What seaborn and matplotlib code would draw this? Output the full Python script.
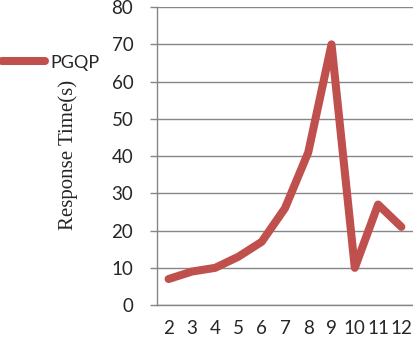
import matplotlib
matplotlib.use("Agg")
import matplotlib.pyplot as plt
import seaborn as sns
import pandas as pd
import numpy as np

# data
x_vals = [2, 3, 4, 5, 6, 7, 8, 9, 10, 11, 12]
pgqp = [7, 9, 10, 13, 17, 26, 41, 70, 10, 27, 21]

df = pd.DataFrame({"x": x_vals, "PGQP": pgqp})

sns.set_style("white")
plt.rcParams['font.family'] = ['Lato', 'DejaVu Sans']

fig = plt.figure(figsize=(4.13, 3.39), dpi=100)
ax = fig.add_axes([0.38, 0.10, 0.62, 0.879])

sns.lineplot(x="x", y="PGQP", data=df, ax=ax, color="#C0504D",
             linewidth=5.8, label="PGQP", solid_capstyle="round")

ax.set_xlim(1.5, 12.5)
ax.set_ylim(0, 80)
ax.set_yticks(range(0, 81, 10))
ax.set_xticks(x_vals)
ax.set_xticks(np.arange(1.5, 12.6, 1), minor=True)
ax.tick_params(axis="x", which="major", length=0, labelsize=13.5, pad=11)
ax.tick_params(axis="x", which="minor", length=5, color="#868686", width=1)
ax.tick_params(axis="y", which="major", length=5, color="#868686", width=1,
               labelsize=13.5, left=True, pad=12)
ax.grid(axis="y", color="#868686", linewidth=1)
ax.set_axisbelow(True)

for s in ["top", "right"]:
    ax.spines[s].set_visible(False)
for s in ["left", "bottom"]:
    ax.spines[s].set_color("#868686")
    ax.spines[s].set_linewidth(1)

ax.set_xlabel("")
ax.set_ylabel("Response Time(s)", family="Liberation Serif", fontsize=15)
ax.yaxis.set_label_coords(-0.31, 0.505)

ax.get_legend().remove()
h, l = ax.get_legend_handles_labels()
fig.legend(h, l, loc="center left", bbox_to_anchor=(-0.035, 0.815),
           frameon=False, fontsize=13, handlelength=2.4, handletextpad=0.3)

fig.savefig("out.png", dpi=100)
